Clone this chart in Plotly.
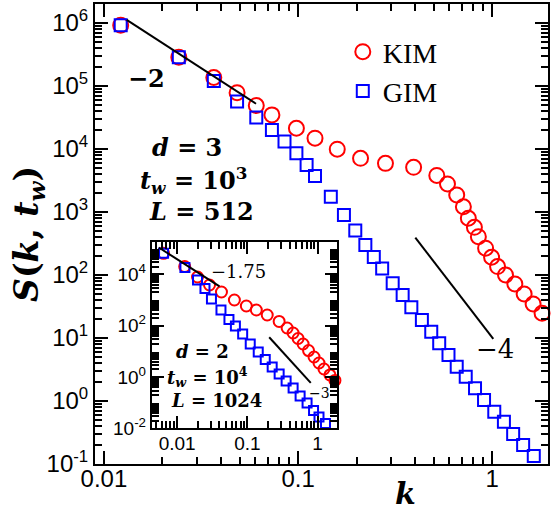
import plotly.graph_objects as go

# ---- main panel: d = 3, t_w = 10^3, L = 512 ----
kim_k = [0.0122, 0.0243, 0.0368, 0.0485, 0.0609, 0.0733, 0.0980, 0.1222, 0.1591,
         0.2097, 0.2818, 0.3935, 0.518, 0.588, 0.656, 0.710, 0.753, 0.809, 0.848,
         0.924, 0.992, 1.065, 1.170, 1.307, 1.459, 1.623, 1.805]
kim_s = [9.2e5, 2.86e5, 1.36e5, 7.8e4, 4.87e4, 3.47e4, 2.13e4, 1.48e4, 9.9e3,
         7.1e3, 5.9e3, 5.1e3, 3.8e3, 2.78e3, 1.86e3, 1.21e3, 794, 571, 405,
         266, 191, 136, 100, 72, 50, 34.7, 24.7]

gim_k = [0.0122, 0.0243, 0.0368, 0.0485, 0.0609, 0.0733, 0.0851, 0.0980, 0.1106,
         0.1222, 0.1474, 0.1722, 0.197, 0.222, 0.2454, 0.271, 0.307, 0.3455,
         0.383, 0.434, 0.485, 0.533, 0.595, 0.656, 0.730, 0.815, 0.907, 1.024,
         1.148, 1.281, 1.442, 1.636]
gim_s = [9.2e5, 2.86e5, 1.20e5, 5.64e4, 3.14e4, 2.0e4, 1.31e4, 8.55e3, 5.57e3,
         3.73e3, 1.75e3, 896, 508, 299, 193, 127, 73.8, 48.2,
         30.7, 19.3, 12.6, 8.24, 5.37, 3.50, 2.43, 1.59, 1.04, 0.676,
         0.469, 0.299, 0.200, 0.134]

# ---- inset: d = 2, t_w = 10^4, L = 1024 ----
kim2_k = [0.0064, 0.0128, 0.0195, 0.0289, 0.0428, 0.0654, 0.0968, 0.1342, 0.192,
          0.284, 0.369, 0.449, 0.529, 0.623, 0.745, 0.892, 1.050, 1.236, 1.504, 1.771]
kim2_s = [6.7e4, 2.05e4, 7990, 3900, 2080, 1016, 593, 414, 264,
          148, 82.4, 52.6, 32.1, 19.6, 10.9, 6.11, 3.57, 2.08, 1.22, 0.743]

gim2_k = [0.0064, 0.0129, 0.0195, 0.0249, 0.0308, 0.0421, 0.0547, 0.0676, 0.0858,
          0.110, 0.143, 0.180, 0.226, 0.284, 0.357, 0.449, 0.565, 0.710, 0.878,
          1.050, 1.299]
gim2_s = [6.7e4, 1.87e4, 6110, 2850, 1110, 414, 177, 98.6, 48.1,
          19.6, 9.57, 4.89, 2.49, 1.33, 0.710, 0.379, 0.185, 0.0986, 0.0503,
          0.0281, 0.0157]

# power-law guides: (exponent, k_start, k_end, S at k_start)
guides_main = [(-2.0, 0.0131, 0.0607, 1.12e6), (-4.0, 0.4015, 1.012, 391.0)]
guides_inset = [(-1.75, 0.00547, 0.0401, 1.127e5), (-3.0, 0.205, 0.801, 35.8)]

# axis tick labels
main_xticks = [0.01, 0.1, 1]
main_xtext = ["0.01", "0.1", "1"]
main_yticks = [1e-1, 1e0, 1e1, 1e2, 1e3, 1e4, 1e5, 1e6]
main_ytext = ["10<sup>-1</sup>", "10<sup>0</sup>", "10<sup>1</sup>", "10<sup>2</sup>",
              "10<sup>3</sup>", "10<sup>4</sup>", "10<sup>5</sup>", "10<sup>6</sup>"]
inset_xticks = [0.01, 0.1, 1]
inset_xtext = ["0.01", "0.1", "1"]
inset_yticks = [1e-2, 1e0, 1e2, 1e4]
inset_ytext = ["10<sup>-2</sup>", "10<sup>0</sup>", "10<sup>2</sup>", "10<sup>4</sup>"]


def minor_vals(lo_dec, hi_dec):
    return [m * 10.0 ** d for d in range(lo_dec, hi_dec + 1) for m in range(2, 10)]


RED = "#ff0000"
BLUE = "#0000ff"

fig = go.Figure()

fig.add_trace(go.Scatter(x=kim_k, y=kim_s, mode="markers", name="KIM",
                         marker=dict(symbol="circle-open", size=15, color=RED,
                                     line=dict(width=2, color=RED)),
                         cliponaxis=False, xaxis="x", yaxis="y"))
fig.add_trace(go.Scatter(x=gim_k, y=gim_s, mode="markers", name="GIM",
                         marker=dict(symbol="square-open", size=12, color=BLUE,
                                     line=dict(width=2, color=BLUE)),
                         cliponaxis=False, xaxis="x", yaxis="y"))

for p, k0, k1, s0 in guides_main:
    fig.add_trace(go.Scatter(x=[k0, k1], y=[s0, s0 * (k1 / k0) ** p], mode="lines",
                             line=dict(color="black", width=2), showlegend=False,
                             xaxis="x", yaxis="y"))

fig.add_trace(go.Scatter(x=kim2_k, y=kim2_s, mode="markers", showlegend=False,
                         marker=dict(symbol="circle-open", size=11, color=RED,
                                     line=dict(width=2, color=RED)),
                         cliponaxis=False, xaxis="x2", yaxis="y2"))
fig.add_trace(go.Scatter(x=gim2_k, y=gim2_s, mode="markers", showlegend=False,
                         marker=dict(symbol="square-open", size=9, color=BLUE,
                                     line=dict(width=2, color=BLUE)),
                         cliponaxis=False, xaxis="x2", yaxis="y2"))

for p, k0, k1, s0 in guides_inset:
    fig.add_trace(go.Scatter(x=[k0, k1], y=[s0, s0 * (k1 / k0) ** p], mode="lines",
                             line=dict(color="black", width=2), showlegend=False,
                             xaxis="x2", yaxis="y2"))

TICKFONT = "Liberation Sans, Arial, sans-serif"
MATHFONT = "DejaVu Serif, serif"


def log_axis(**kw):
    base = dict(type="log", showline=True, linewidth=2, linecolor="black",
                mirror="allticks", ticks="inside", tickwidth=2, tickcolor="black",
                showgrid=False, zeroline=False, tickmode="array")
    base.update(kw)
    return base


fig.update_layout(
    width=552, height=513,
    margin=dict(l=95, r=2, t=4, b=49),
    paper_bgcolor="white", plot_bgcolor="white",
    xaxis=log_axis(range=[-2.046, 0.287], domain=[0, 1], anchor="y",
                   tickvals=main_xticks, ticktext=main_xtext, ticklen=13,
                   ticklabelstandoff=-8,
                   tickfont=dict(family=TICKFONT, size=24, color="black"),
                   minor=dict(tickmode="array", tickvals=minor_vals(-2, 0),
                              ticks="inside", ticklen=7, tickwidth=1.5, tickcolor="black")),
    yaxis=log_axis(range=[-1, 6.30], domain=[0, 1], anchor="x",
                   tickvals=main_yticks, ticktext=main_ytext, ticklen=13,
                   tickfont=dict(family=TICKFONT, size=24, color="black"),
                   minor=dict(tickmode="array", tickvals=minor_vals(-1, 5),
                              ticks="inside", ticklen=7, tickwidth=1.5, tickcolor="black")),
    xaxis2=log_axis(range=[-2.362, 0.277], domain=[0.1253, 0.5341], anchor="y2",
                    tickvals=inset_xticks, ticktext=inset_xtext, ticklen=12,
                    ticklabelstandoff=-3,
                    tickfont=dict(family=TICKFONT, size=19, color="black"),
                    minor=dict(tickmode="array", tickvals=minor_vals(-3, 0),
                               ticks="inside", ticklen=7, tickwidth=1.5, tickcolor="black")),
    yaxis2=log_axis(range=[-2, 5.266], domain=[0.0772, 0.4826], anchor="x2",
                    tickvals=inset_yticks, ticktext=inset_ytext, ticklen=12,
                    tickfont=dict(family=TICKFONT, size=19, color="black"),
                    minor=dict(tickmode="array", tickvals=minor_vals(-2, 5),
                               ticks="inside", ticklen=7, tickwidth=1.5, tickcolor="black")),
    legend=dict(x=0.547, y=0.95, xanchor="left", yanchor="top",
                bgcolor="rgba(0,0,0,0)", borderwidth=0,
                font=dict(family="Liberation Serif, serif", size=28, color="black")),
)


def label(text, x, y, size, bold=True, angle=0):
    fig.add_annotation(text=("<b>%s</b>" % text) if bold else text,
                       x=x, y=y, xref="paper", yref="paper", textangle=angle,
                       xanchor="center", yanchor="middle", showarrow=False,
                       font=dict(family=MATHFONT, size=size, color="black"))


# axis titles
label("<i>S</i>(<i>k</i>, <i>t</i><sub><i>w</i></sub>)", -0.148, 0.5, 33, angle=-90)
label("<i>k</i>", 0.6857, -0.0641, 30)

# main panel texts
label("−2", 0.1143, 0.839, 24)
label("<i>d</i> = 3", 0.2022, 0.688, 24)
label("<i>t</i><sub><i>w</i></sub> = 10<sup>3</sup>", 0.2165, 0.617, 24)
label("<i>L</i> = 512", 0.2345, 0.548, 24)
label("−4", 0.883, 0.251, 26, bold=False)

# inset texts
label("−1.75", 0.3165, 0.418, 18, bold=False)
label("−3", 0.4945, 0.1543, 14, bold=False)
label("<i>d</i> = 2", 0.2363, 0.2446, 18)
label("<i>t</i><sub><i>w</i></sub> = 10<sup>4</sup>", 0.2485, 0.189, 18)
label("<i>L</i> = 1024", 0.2692, 0.139, 18)

fig.write_html("out.html")
